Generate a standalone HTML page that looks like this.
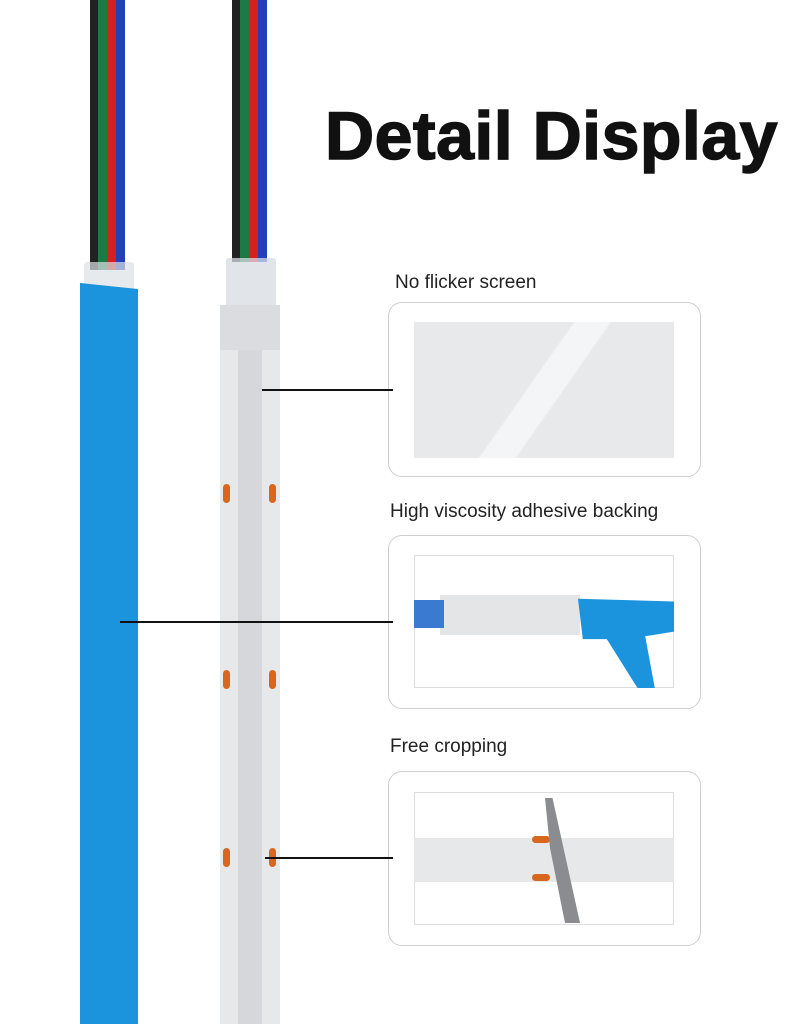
<!DOCTYPE html>
<html><head><style>
body{margin:0;width:810px;height:1024px;background:#fff;position:relative;overflow:hidden;font-family:"Liberation Sans",sans-serif}
div{position:absolute}
.w{top:0;width:5px}
.led{width:7px;height:19px;border-radius:4px;background:#d8661c}
.box{border:1.5px solid #cfcfcf;border-radius:14px;left:388px;width:311px}
.lab{font-size:19px;color:#222}
.ln{height:2px;background:#111}
</style></head><body>
<div class="w" style="left:90px;height:270px;width:8px;background:#222"></div>
<div class="w" style="left:98px;height:270px;width:9px;background:#1e7a45"></div>
<div class="w" style="left:107px;height:270px;width:9px;background:#d42020"></div>
<div class="w" style="left:116px;height:270px;width:9px;background:#2340b8"></div>
<div style="left:84px;top:262px;width:50px;height:28px;background:rgba(220,225,230,.7);border-radius:3px"></div>
<div style="left:80px;top:283px;width:58px;height:741px;background:#1b93dd;clip-path:polygon(0 0,100% 6px,100% 100%,0 100%)"></div>
<div class="w" style="left:232px;height:262px;width:8px;background:#222"></div>
<div class="w" style="left:240px;height:262px;width:9px;background:#1e7a45"></div>
<div class="w" style="left:249px;height:262px;width:9px;background:#d42020"></div>
<div class="w" style="left:258px;height:262px;width:9px;background:#2340b8"></div>
<div style="left:226px;top:258px;width:50px;height:50px;background:rgba(215,220,225,.75);border-radius:3px"></div>
<div style="left:220px;top:305px;width:60px;height:719px;background:#e6e8ea"></div>
<div style="left:220px;top:305px;width:60px;height:45px;background:#dadcdf"></div>
<div style="left:238px;top:350px;width:24px;height:674px;background:#d5d7da"></div>
<div class="led" style="left:223px;top:484px"></div><div class="led" style="left:269px;top:484px"></div>
<div class="led" style="left:223px;top:670px"></div><div class="led" style="left:269px;top:670px"></div>
<div class="led" style="left:223px;top:848px"></div><div class="led" style="left:269px;top:848px"></div>
<div style="left:325px;top:97px;font-size:68px;font-weight:900;color:#111;letter-spacing:0.5px;white-space:nowrap;-webkit-text-stroke:1.5px #111">Detail Display</div>
<div class="lab" style="left:395px;top:272px">No flicker screen</div>
<div class="lab" style="left:390px;top:501px">High viscosity adhesive backing</div>
<div class="lab" style="left:390px;top:736px">Free cropping</div>
<div class="box" style="top:302px;height:173px"></div>
<div style="left:414px;top:322px;width:260px;height:136px;background:#e8e9eb"></div>
<div style="left:470px;top:322px;width:150px;height:136px;background:linear-gradient(125deg,transparent 42%,#f4f5f6 43%,#f4f5f6 57%,transparent 58%)"></div>
<div class="box" style="top:535px;height:172px"></div>
<div style="left:414px;top:555px;width:260px;height:133px;background:#fff;border:1px solid #ddd;box-sizing:border-box"></div>
<div style="left:440px;top:595px;width:140px;height:40px;background:#e4e5e6"></div>
<div style="left:414px;top:600px;width:30px;height:28px;background:#3a7ad0"></div>
<div style="left:578px;top:594px;width:96px;height:94px;background:#1b93dd;clip-path:polygon(0 5%,100% 8%,100% 40%,70% 45%,80% 100%,62% 100%,30% 48%,5% 48%)"></div>
<div class="box" style="top:771px;height:173px"></div>
<div style="left:414px;top:792px;width:260px;height:133px;background:#fff;border:1px solid #ddd;box-sizing:border-box"></div>
<div style="left:414px;top:838px;width:260px;height:44px;background:#e6e8ea"></div>
<div class="led" style="left:532px;top:836px;width:18px;height:7px"></div>
<div class="led" style="left:532px;top:874px;width:18px;height:7px"></div>
<div style="left:530px;top:798px;width:50px;height:125px;background:#8a8c90;clip-path:polygon(30% 0,45% 0,100% 100%,70% 100%,40% 40%)"></div>
<div class="ln" style="left:262px;top:389px;width:131px"></div>
<div class="ln" style="left:120px;top:621px;width:273px"></div>
<div class="ln" style="left:265px;top:857px;width:128px"></div>
</body></html>
